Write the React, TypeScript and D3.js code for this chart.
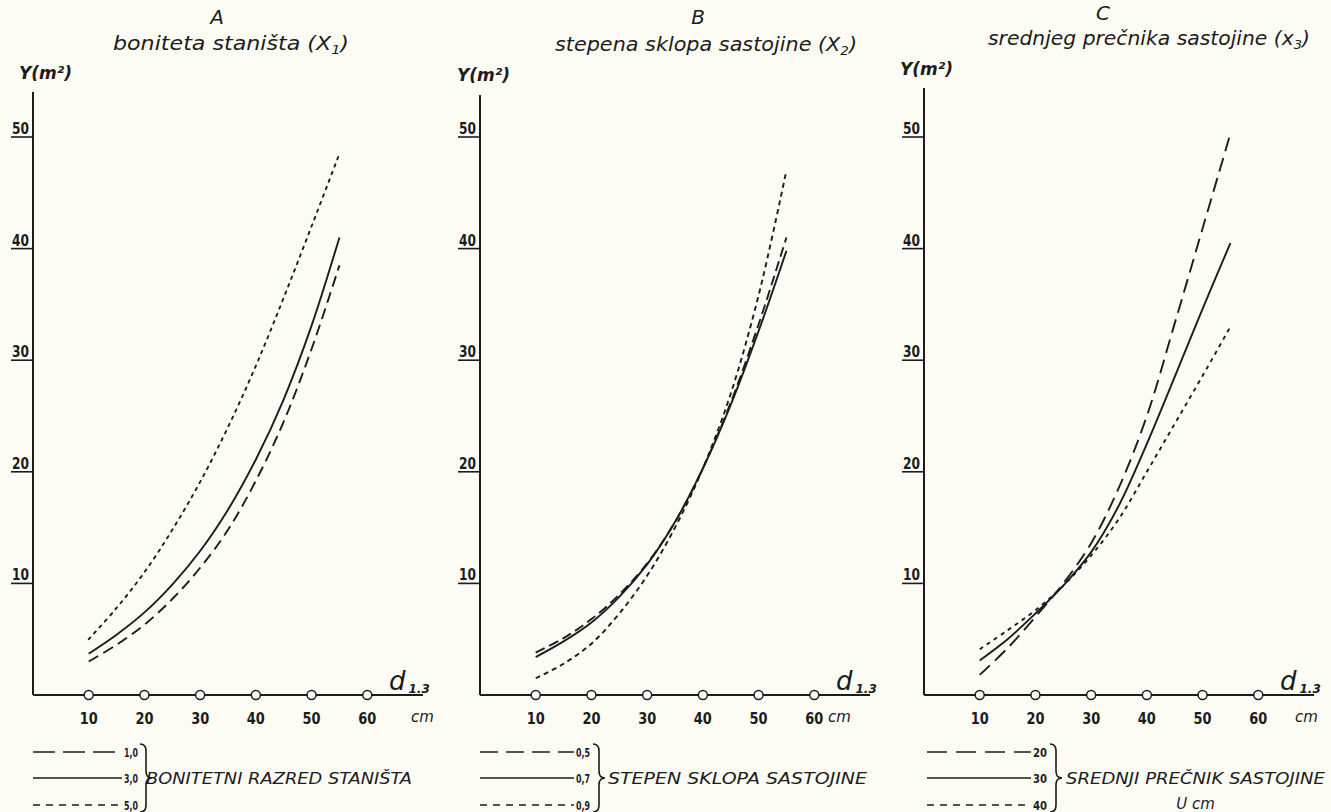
import { useEffect } from 'react'
import * as d3 from 'd3'

// diameters d1.3 (cm) at which the curves were read
const diameters = [10, 15, 20, 25, 30, 35, 40, 45, 50, 55]
const xTicks = [10, 20, 30, 40, 50, 60]
const yTicks = [10, 20, 30, 40, 50]

// A - boniteta staništa
const siteClass10 = [3.0, 4.5, 6.3, 8.6, 11.4, 14.8, 19.2, 24.5, 31.0, 38.5]
const siteClass30 = [3.7, 5.4, 7.4, 9.9, 12.9, 16.6, 21.1, 26.5, 33.1, 41.0]
const siteClass50 = [5.0, 7.8, 11.0, 14.8, 19.1, 24.0, 29.5, 35.6, 42.0, 48.5]
const siteLabels = ['1,0', '3,0', '5,0']

// B - stepena sklopa sastojine
const density05 = [3.8, 5.1, 6.8, 9.0, 11.8, 15.5, 20.3, 26.2, 33.2, 41.0]
const density07 = [3.4, 4.8, 6.5, 8.8, 11.7, 15.5, 20.3, 26.0, 32.6, 39.8]
const density09 = [1.5, 2.8, 4.6, 7.3, 10.7, 15.0, 20.3, 27.0, 35.8, 47.0]
const densityLabels = ['0,5', '0,7', '0,9']

// C - srednjeg prečnika sastojine
const meanDia20 = [1.8, 4.2, 7.0, 10.0, 13.6, 18.6, 25.0, 33.3, 41.8, 50.3]
const meanDia30 = [3.1, 5.0, 7.3, 9.8, 12.8, 17.0, 22.5, 28.5, 34.6, 40.5]
const meanDia40 = [4.1, 5.8, 7.6, 9.8, 12.5, 15.8, 20.0, 24.3, 28.6, 33.0]
const meanDiaLabels = ['20', '30', '40']

const BG = '#fcfbf4'
const INK = '#1c1c1c'
const HAND = '"DejaVu Sans", sans-serif'

const panels = [
  {
    letter: 'A', letterX: 217, letterY: 24,
    sub: 'boniteta staništa (X', subIdx: '1', subX: 113, subY: 50, subLen: 236,
    yLabelX: 19, yLabelY: 79,
    axisX: 33, axisTop: 92, cmX: 411,
    series: [siteClass10, siteClass30, siteClass50],
    labels: siteLabels,
    dashes: ['11,6', null, '2.5,5.5'],
    legendDashes: ['22,8', null, '7,6'],
    lx0: 33, lx1: 122, braceX: 140,
    title: ['BONITETNI RAZRED STANIŠTA'], titleX: 146, titleLen: 266,
  },
  {
    letter: 'B', letterX: 698, letterY: 24,
    sub: 'stepena sklopa sastojine (X', subIdx: '2', subX: 555, subY: 51, subLen: 302,
    yLabelX: 457, yLabelY: 81,
    axisX: 480, axisTop: 95, cmX: 828,
    series: [density05, density07, density09],
    labels: densityLabels,
    dashes: ['10,5', null, '5,4'],
    legendDashes: ['18,8', null, '7,6'],
    lx0: 480, lx1: 574, braceX: 593,
    title: ['STEPEN SKLOPA SASTOJINE'], titleX: 608, titleLen: 259,
  },
  {
    letter: 'C', letterX: 1103, letterY: 20,
    sub: 'srednjeg prečnika sastojine (x', subIdx: '3', subX: 988, subY: 45, subLen: 322,
    yLabelX: 900, yLabelY: 75,
    axisX: 924, axisTop: 88, cmX: 1295,
    series: [meanDia20, meanDia30, meanDia40],
    labels: meanDiaLabels,
    dashes: ['14,7', null, '4,4.5'],
    legendDashes: ['20,9', null, '7,6'],
    lx0: 927, lx1: 1031, braceX: 1050,
    title: ['SREDNJI PREČNIK SASTOJINE', 'U cm'], titleX: 1066, titleLen: 259,
  },
]

const legendRows = [752, 778, 805]

function Panel({ p }) {
  const x = d3.scaleLinear().domain([0, 70]).range([p.axisX, p.axisX + 390])
  const y = d3.scaleLinear().domain([0, 50]).range([695, 137])
  const line = d3.line<number>()
    .x((_, i) => x(diameters[i]))
    .y(v => y(v))
    .curve(d3.curveCatmullRom.alpha(0.5))

  const bx = p.braceX
  const brace = `M${bx},744 q6,0 6,7 L${bx + 6},771 q0,7 6,7 q-6,0 -6,7 L${bx + 6},805 q0,7 -6,7`

  return (
    <g>
      {/* titles */}
      <text x={p.letterX} y={p.letterY} textAnchor="middle" fontStyle="italic" fontSize={20} fill={INK}>{p.letter}</text>
      <text x={p.subX} y={p.subY} fontStyle="italic" fontSize={20} fill={INK} textLength={p.subLen} lengthAdjust="spacingAndGlyphs">
        {p.sub}<tspan fontSize={13} dy={4}>{p.subIdx}</tspan><tspan dy={-4}>)</tspan>
      </text>
      <text x={p.yLabelX} y={p.yLabelY} fontStyle="italic" fontWeight="bold" fontSize={17} fill={INK}>Y(m²)</text>

      {/* axes */}
      <line x1={x(0)} x2={x(0)} y1={p.axisTop} y2={y(0)} stroke={INK} strokeWidth={2} />
      <line x1={x(0)} x2={x(70)} y1={y(0)} y2={y(0)} stroke={INK} strokeWidth={2} />

      {yTicks.map(t => (
        <g key={t}>
          <line x1={x(0) - 22} x2={x(0)} y1={y(t)} y2={y(t)} stroke={INK} strokeWidth={1.6} />
          <text x={x(0) - 21} y={y(t) - 3} fontWeight="bold" fontSize={15} fill={INK}
            textLength={17} lengthAdjust="spacingAndGlyphs">{t}</text>
        </g>
      ))}

      {xTicks.map(t => (
        <g key={t}>
          <circle cx={x(t)} cy={y(0)} r={4.5} fill={BG} stroke={INK} strokeWidth={1.5} />
          <text x={x(t)} y={724} textAnchor="middle" fontWeight="bold" fontSize={16} fill={INK}
            textLength={18} lengthAdjust="spacingAndGlyphs">{t}</text>
        </g>
      ))}
      <text x={p.cmX} y={722} fontStyle="italic" fontSize={15} fill={INK}>cm</text>
      <text x={x(0) + 356} y={690} fontStyle="italic" fontSize={26} fill={INK}>d<tspan fontSize={12} fontWeight="bold" dx={3} dy={3}>1.3</tspan></text>

      {/* curves */}
      {p.series.map((s, i) => (
        <path key={i} d={line(s) ?? ''} fill="none" stroke={INK} strokeWidth={1.9}
          strokeDasharray={p.dashes[i] ?? undefined} strokeLinecap={i === 2 && p.letter === 'A' ? 'round' : 'butt'} />
      ))}

      {/* legend */}
      {p.labels.map((lab, i) => (
        <g key={lab}>
          <line x1={p.lx0} x2={p.lx1} y1={legendRows[i]} y2={legendRows[i]} stroke={INK} strokeWidth={1.6}
            strokeDasharray={p.legendDashes[i] ?? undefined} />
          <text x={p.lx1 + 2} y={legendRows[i] + 5} fontWeight="bold" fontSize={12} fill={INK}
            textLength={14} lengthAdjust="spacingAndGlyphs">{lab}</text>
        </g>
      ))}
      <path d={brace} fill="none" stroke={INK} strokeWidth={1.6} />
      <text x={p.titleX} y={784} fontStyle="italic" fontSize={15} fill={INK} textLength={p.titleLen} lengthAdjust="spacingAndGlyphs">{p.title[0]}</text>
      {p.title[1] && (
        <text x={p.titleX + p.titleLen / 2} y={809} textAnchor="middle" fontStyle="italic" fontSize={15} fill={INK}>{p.title[1]}</text>
      )}
    </g>
  )
}

export default function App() {
  useEffect(() => {
    document.body.style.margin = '0'
  }, [])

  return (
    <svg width={1331} height={812} style={{ display: 'block', background: BG, fontFamily: HAND }}>
      {panels.map(p => <Panel key={p.letter} p={p} />)}
    </svg>
  )
}
